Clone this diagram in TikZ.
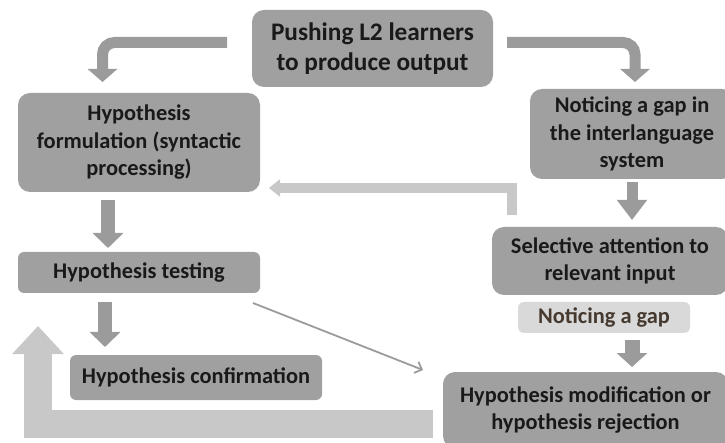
\documentclass[tikz,border=0pt]{standalone}
\usepackage{fontspec}
\setmainfont{Carlito}
\usetikzlibrary{arrows.meta}
\definecolor{boxgray}{RGB}{160,160,160}
\definecolor{lightbox}{RGB}{217,217,217}
\definecolor{arrowgray}{RGB}{155,155,155}
\definecolor{lightarrow}{RGB}{200,200,200}
\definecolor{textdark}{RGB}{25,25,25}
\definecolor{textbrown}{RGB}{70,58,48}
\tikzset{
  box/.style={fill=boxgray, rounded corners=12pt, inner sep=0pt, align=center,
    text=textdark, font=\bfseries\fontsize{22.4}{27.5}\selectfont},
  bigfont/.style={font=\bfseries\fontsize{25.3}{30}\selectfont},
  smallbox/.style={box, rounded corners=6pt},
  lbox/.style={fill=lightbox, rounded corners=6pt, inner sep=0pt, align=center,
    text=textbrown, font=\bfseries\fontsize{22.4}{27.5}\selectfont},
  bendarrow/.style={draw=arrowgray, line width=11pt, rounded corners=12pt,
    -{Triangle[length=13pt,width=29pt]}, arrowgray},
  downarrow/.style={draw=arrowgray, line width=14pt,
    -{Triangle[length=15pt,width=30pt]}, arrowgray},
  backarrow/.style={draw=lightarrow, line width=10pt, line join=miter,
    -{Triangle[length=11pt,width=17pt]}, lightarrow},
  bigback/.style={draw=lightarrow, line width=28pt, line join=miter,
    -{Triangle[length=28pt,width=50pt]}, lightarrow},
  thinarrow/.style={draw=arrowgray, line width=1.8pt,
    -{Straight Barb[length=6pt,width=12pt]}}
}
\begin{document}
\begin{tikzpicture}[x=1pt,y=-1pt]
\useasboundingbox (0,0) rectangle (725,443);
% nodes
\node[box, bigfont, minimum width=241pt, minimum height=77pt] (top) at (372.5,48.5) {Pushing L2 learners\\to produce output};
\node[box, minimum width=242pt, minimum height=99pt] (hf) at (139,142.5) {Hypothesis\\formulation (syntactic\\processing)};
\node[box, minimum width=204pt, minimum height=90pt] (ng) at (632,134) {Noticing a gap in\\the interlanguage\\system};
\node[box, minimum width=236pt, minimum height=68pt] (sa) at (610,261) {Selective attention to\\relevant input};
\node[smallbox, minimum width=242pt, minimum height=41pt] (ht) at (139,272.5) {Hypothesis testing};
\node[smallbox, minimum width=252pt, minimum height=45pt] (hc) at (196,377.5) {Hypothesis confirmation};
\node[lbox, minimum width=172pt, minimum height=31pt] (nga) at (604,317.5) {Noticing a gap};
\node[box, minimum width=285pt, minimum height=76pt] (hm) at (585.5,410) {Hypothesis modification or\\hypothesis rejection};
% coordinates
\coordinate (l1) at (227,42.5);
\coordinate (l2) at (102.5,82);
\coordinate (r1) at (507,42.5);
\coordinate (r2) at (635,82);
\coordinate (b1) at (511.5,215);
\coordinate (b2) at (269,188);
\coordinate (d1s) at (108,200);
\coordinate (d1e) at (108,248);
\coordinate (d2s) at (105,302);
\coordinate (d2e) at (105,347);
\coordinate (d3s) at (632,182);
\coordinate (d3e) at (632,220);
\coordinate (d4s) at (632,340);
\coordinate (d4e) at (632,367);
\coordinate (g1) at (433,424);
\coordinate (g2) at (38,326);
\coordinate (t1) at (253,303);
\coordinate (t2) at (423,370);
% connectors
\draw[bendarrow] (l1) -| (l2);
\draw[bendarrow] (r1) -| (r2);
\draw[backarrow] (b1) |- (b2);
\draw[downarrow] (d1s) -- (d1e);
\draw[downarrow] (d2s) -- (d2e);
\draw[downarrow, line width=11pt, -{Triangle[length=20pt,width=29pt]}] (d3s) -- (d3e);
\draw[downarrow, line width=15pt, -{Triangle[length=14pt,width=30pt]}] (d4s) -- (d4e);
\draw[bigback] (g1) -| (g2);
\draw[thinarrow] (t1) -- (t2);
\end{tikzpicture}
\end{document}
